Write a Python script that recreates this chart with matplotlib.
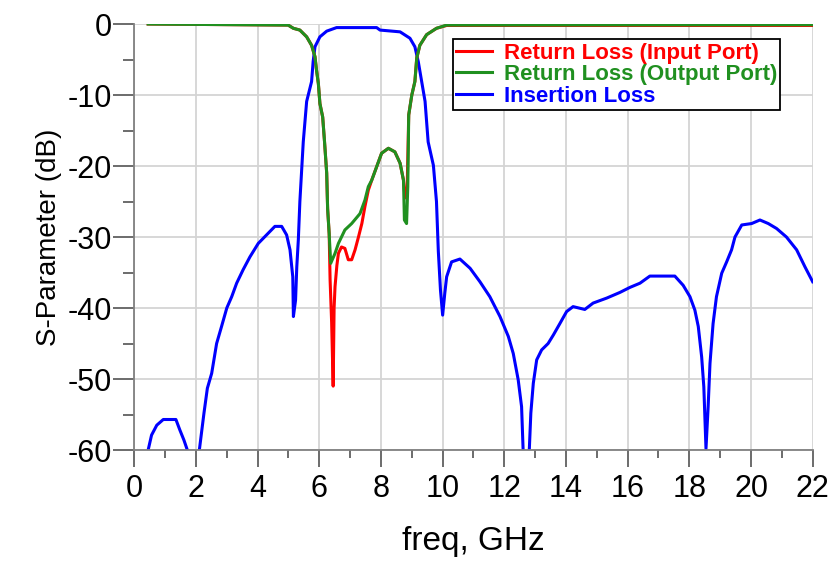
import matplotlib
matplotlib.use("Agg")
import matplotlib.pyplot as plt
from matplotlib.ticker import MultipleLocator

plt.rcParams['font.family'] = ['Liberation Sans', 'DejaVu Sans']
plt.rcParams['axes.unicode_minus'] = False

# Insertion loss (S21)
il_freq = [0.45, 0.56, 0.73, 0.94, 1.35, 1.48, 1.61, 1.72, 1.9, 2.11, 2.26, 2.37, 2.51, 2.67,
           2.83, 3.0, 3.16, 3.32, 3.53, 3.75, 4.02, 4.29, 4.56, 4.78, 4.94, 5.05, 5.14, 5.16,
           5.23, 5.27, 5.32, 5.37, 5.48, 5.59, 5.75, 5.80, 5.86, 6.02, 6.24, 6.56, 7.86, 7.97,
           8.62, 8.94, 9.10, 9.21, 9.32, 9.43, 9.53, 9.70, 9.80, 9.86, 9.93, 10.0, 10.07, 10.13,
           10.29, 10.56, 10.89, 11.21, 11.53, 11.86, 12.13, 12.29, 12.45, 12.56, 12.61, 12.71,
           12.81, 12.86, 12.94, 13.05, 13.21, 13.42, 13.59, 13.80, 14.02, 14.23, 14.61, 14.88,
           15.32, 15.75, 16.07, 16.40, 16.72, 17.53, 17.80, 18.02, 18.18, 18.29, 18.40, 18.47,
           18.54, 18.61, 18.67, 18.77, 18.88, 19.05, 19.21, 19.37, 19.48, 19.70, 20.02, 20.29,
           20.56, 20.83, 21.15, 21.48, 21.75, 22.0]
il_db = [-60, -57.9, -56.5, -55.7, -55.7, -57.2, -58.6, -60, -68, -60, -54.8, -51.3, -49.2, -45.0,
         -42.6, -40.0, -38.4, -36.5, -34.6, -32.8, -30.9, -29.7, -28.5, -28.5, -29.7, -31.8, -35.6, -41.2,
         -38.9, -34.2, -30.4, -25.0, -16.6, -10.9, -8.1, -5.3, -3.2, -1.8, -1.0, -0.5, -0.5, -0.85,
         -1.1, -2.0, -3.2, -5.3, -8.1, -10.9, -16.6, -19.9, -25.0, -32.0, -37.5, -41.0, -37.9, -35.6,
         -33.5, -33.1, -34.4, -36.3, -38.4, -41.2, -44.0, -46.4, -50.1, -53.9, -60, -66,
         -60, -54.8, -50.6, -47.3, -45.9, -45.0, -43.8, -42.2, -40.5, -39.8, -40.2, -39.3,
         -38.6, -37.8, -37.1, -36.5, -35.5, -35.5, -36.8, -38.4, -40.3, -42.6, -46.9, -51.1,
         -59.8, -53.9, -47.8, -42.2, -38.4, -35.1, -33.5, -31.8, -30.0, -28.3, -28.1, -27.6,
         -28.1, -28.8, -30.0, -31.8, -34.2, -36.3]

# Return loss, output port (S22)
rl_out_freq = [0.45, 4.99, 5.16, 5.37, 5.59, 5.75, 5.86, 5.91, 5.97, 6.02, 6.11, 6.17, 6.24, 6.27,
               6.32, 6.37, 6.51, 6.62, 6.83, 7.05, 7.32, 7.48, 7.59, 7.70, 7.86, 8.02, 8.24, 8.45,
               8.62, 8.73, 8.76, 8.83, 8.87, 8.90, 9.0, 9.10, 9.16, 9.26, 9.48, 9.80, 10.13, 22.0]
rl_out_db = [0, -0.15, -0.6, -0.85, -1.8, -3.0, -4.6, -6.5, -8.4, -11.2, -13.1, -16.6, -21.0, -26.0,
             -29.5, -33.7, -32.3, -30.9, -29.0, -28.1, -26.7, -24.8, -22.9, -22.0, -20.1, -18.2, -17.5, -18.0,
             -19.6, -22.0, -27.6, -28.1, -22.9, -12.8, -10.0, -8.1, -4.8, -3.0, -1.5, -0.6, -0.15, -0.1]

# Return loss, input port (S11)
rl_in_freq = [0.45, 4.99, 5.16, 5.37, 5.59, 5.75, 5.86, 5.91, 5.97, 6.02, 6.11, 6.17, 6.24, 6.27,
              6.32, 6.35, 6.40, 6.45, 6.48, 6.51, 6.57, 6.62, 6.72, 6.83, 6.94, 7.05, 7.16, 7.27,
              7.38, 7.48, 7.59, 7.70, 7.86, 8.02, 8.24, 8.45, 8.62, 8.73, 8.78, 8.85, 8.90, 9.0,
              9.10, 9.16, 9.26, 9.48, 9.80, 10.13, 22.0]
rl_in_db = [0, -0.15, -0.6, -0.85, -1.8, -3.0, -4.6, -6.5, -8.4, -11.2, -13.1, -16.6, -21.0, -26.0,
            -29.5, -36.0, -42.0, -51.0, -40.0, -37.0, -34.0, -32.3, -31.4, -31.6, -33.2, -33.2, -31.8, -30.0,
            -28.1, -25.7, -23.4, -22.0, -20.1, -18.2, -17.5, -18.0, -19.6, -22.0, -24.5, -23.0, -12.8, -10.0,
            -8.1, -4.8, -3.0, -1.5, -0.6, -0.2, -0.2]

labels = ["Return Loss (Input Port)", "Return Loss (Output Port)", "Insertion Loss"]
colors = ["#ff0000", "#209020", "#0000ff"]

fig = plt.figure(figsize=(8.33, 5.67), dpi=100)
ax = fig.add_axes([0.1612, 0.2063, 0.8144, 0.7513])

h_il, = ax.plot(il_freq, il_db, color=colors[2], lw=2.2, label=labels[2])
h_in, = ax.plot(rl_in_freq, rl_in_db, color=colors[0], lw=2.2, label=labels[0])
h_out, = ax.plot(rl_out_freq, rl_out_db, color=colors[1], lw=2.2, label=labels[1])

ax.set_xlim(0, 22)
ax.set_ylim(-60, 0)
ax.xaxis.set_major_locator(MultipleLocator(2))
ax.xaxis.set_minor_locator(MultipleLocator(1))
ax.yaxis.set_major_locator(MultipleLocator(10))
ax.yaxis.set_minor_locator(MultipleLocator(5))
ax.grid(True, which='major', color='#d4d4d4', lw=1.3)
ax.set_axisbelow(True)

for s in ['top', 'right']:
    ax.spines[s].set_visible(False)
for s in ['left', 'bottom']:
    ax.spines[s].set_color('#808080')
    ax.spines[s].set_linewidth(1.3)

ax.tick_params(axis='x', which='major', direction='out', length=12, width=1.3, color='#606060',
               labelsize=22, pad=5)
ax.tick_params(axis='x', which='minor', direction='out', length=6, width=1.3, color='#606060')
ax.tick_params(axis='y', which='major', direction='out', length=15, width=1.3, color='#606060',
               labelsize=22, pad=1)
ax.tick_params(axis='y', which='minor', direction='out', length=8, width=1.3, color='#606060')

ax.set_xlabel("freq, GHz", fontsize=24, labelpad=16)
ax.set_ylabel("S-Parameter (dB)", fontsize=20, labelpad=4)

leg = ax.legend(handles=[h_in, h_out, h_il], loc='upper left', bbox_to_anchor=(0.4693, 0.964),
                borderaxespad=0, frameon=True, fancybox=False, framealpha=1,
                edgecolor='black', prop={'weight': 'bold', 'size': 16},
                handlelength=1.6, handletextpad=0.55, labelspacing=0.02, borderpad=0.15)
leg.get_frame().set_linewidth(1.3)
for t, c in zip(leg.get_texts(), colors):
    t.set_color(c)

fig.savefig("out.png", dpi=100)
